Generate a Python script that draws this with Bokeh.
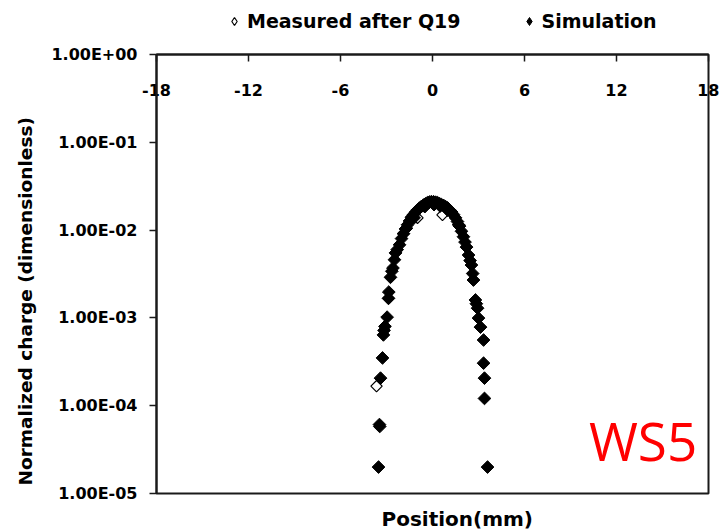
from bokeh.plotting import figure
from bokeh.layouts import column
from bokeh.models import Range1d, FixedTicker, Legend, LegendItem, Title, Label
from bokeh.embed import file_html
from bokeh.resources import INLINE

# ---- data ----
x_ticks = [-18, -12, -6, 0, 6, 12, 18]
x_tick_labels = ["-18", "-12", "-6", "0", "6", "12", "18"]
y_ticks = [1e-5, 1e-4, 1e-3, 1e-2, 1e-1, 1e0]
y_tick_labels = ["1.00E-05", "1.00E-04", "1.00E-03", "1.00E-02", "1.00E-01", "1.00E+00"]

sim_x = [-3.52, -3.46, -3.44, -3.39, -3.26, -3.20, -3.16, -3.10, -2.96, -2.87,
         -2.85, -2.74, -2.65, -2.58, -2.48, -2.41,
         -2.30, -2.15, -2.02, -1.89, -1.76, -1.63, -1.50, -1.37, -1.24, -1.11,
         -0.98, -0.85, -0.72, -0.59, -0.46, -0.33, -0.20, -0.07, 0.07, 0.20,
         0.33, 0.46, 0.59, 0.72, 0.85, 0.98, 1.11, 1.24, 1.37, 1.50,
         1.63, 1.76, 1.89, 2.02, 2.12, 2.22, 2.35,
         2.45, 2.54, 2.62, 2.67, 2.80, 2.86, 2.94, 3.00, 3.13, 3.33,
         3.33, 3.39, 3.39, 3.59,
         -1.70, -1.20, -0.50, 0.10, 0.50, 1.00, 1.70]
sim_y = [2.0e-5, 6.1e-5, 5.8e-5, 2.06e-4, 3.5e-4, 6.4e-4, 7.2e-4, 8.0e-4, 1.02e-3, 1.67e-3,
         1.97e-3, 2.9e-3, 3.4e-3, 3.7e-3, 4.6e-3, 5.5e-3,
         6.0e-3, 6.8e-3, 8.0e-3, 9.1e-3, 1.03e-2, 1.15e-2, 1.27e-2, 1.40e-2, 1.50e-2, 1.60e-2,
         1.70e-2, 1.78e-2, 1.86e-2, 1.93e-2, 1.99e-2, 2.05e-2, 2.09e-2, 2.11e-2, 2.10e-2, 2.08e-2,
         2.05e-2, 2.00e-2, 1.95e-2, 1.91e-2, 1.85e-2, 1.79e-2, 1.70e-2, 1.61e-2, 1.50e-2, 1.38e-2,
         1.25e-2, 1.11e-2, 9.7e-3, 8.4e-3, 7.3e-3, 6.4e-3, 5.2e-3,
         4.5e-3, 4.0e-3, 3.2e-3, 2.7e-3, 1.6e-3, 1.45e-3, 1.29e-3, 9.95e-4, 7.85e-4, 5.6e-4,
         3.05e-4, 2.06e-4, 1.21e-4, 2.0e-5,
         1.05e-2, 1.38e-2, 1.85e-2, 1.95e-2, 1.88e-2, 1.68e-2, 1.15e-2]

meas_x = [-3.65, -2.87, -2.41, -1.89, -1.37, -0.98, -0.46, 0.07, 0.65, 1.24,
          1.76, 2.22, 2.67, 3.13]
meas_y = [1.67e-4, 1.67e-3, 5.5e-3, 9.1e-3, 1.40e-2, 1.38e-2, 1.99e-2, 2.10e-2, 1.49e-2, 1.61e-2,
          1.11e-2, 6.4e-3, 2.7e-3, 7.85e-4]

legend_labels = ["Measured after Q19", "Simulation"]
x_title = "Position(mm)"
y_title = "Normalized charge (dimensionless)"
tag_text = "WS5"

BOLD_FONT = "DejaVu Sans"
LEG_H = 40

# ---------------- main chart ----------------
p = figure(frame_width=552, frame_height=439,
           x_range=Range1d(-18, 18), y_range=Range1d(1e-5, 1),
           y_axis_type="log", x_axis_location="above",
           output_backend="svg", toolbar_location=None,
           min_border_left=156, min_border_right=11,
           min_border_top=54 - LEG_H, min_border_bottom=38)

p.xgrid.visible = False
p.ygrid.visible = False
p.background_fill_color = "white"
p.border_fill_color = "white"
p.outline_line_color = "#1a1a1a"
p.outline_line_width = 2

xa = p.xaxis[0]
xa.ticker = FixedTicker(ticks=x_ticks, minor_ticks=[])
xa.major_label_overrides = {t: l for t, l in zip(x_ticks, x_tick_labels)}
xa.major_tick_in = 7
xa.major_tick_out = 0
xa.minor_tick_line_color = None
xa.axis_line_color = "#1a1a1a"
xa.axis_line_width = 2
xa.major_tick_line_color = "#1a1a1a"
xa.major_tick_line_width = 1.5
xa.major_label_standoff = -41
xa.major_label_text_font = BOLD_FONT
xa.major_label_text_font_style = "bold"
xa.major_label_text_font_size = "16px"
xa.major_label_text_color = "black"

ya = p.yaxis[0]
ya.ticker = FixedTicker(ticks=y_ticks, minor_ticks=[])
ya.major_label_overrides = {t: l for t, l in zip(y_ticks, y_tick_labels)}
ya.major_tick_in = 0
ya.major_tick_out = 7
ya.minor_tick_line_color = None
ya.axis_line_color = "#1a1a1a"
ya.axis_line_width = 2
ya.major_tick_line_color = "#1a1a1a"
ya.major_tick_line_width = 1.5
ya.major_label_standoff = 12
ya.major_label_text_font = BOLD_FONT
ya.major_label_text_font_style = "bold"
ya.major_label_text_font_size = "16px"
ya.major_label_text_color = "black"

MEAS_STYLE = dict(marker="square", angle=0.785398, size=8,
                  fill_color="white", line_color="black", line_width=1.2)
SIM_STYLE = dict(marker="square", angle=0.785398, size=9,
                 fill_color="black", line_color="black", line_width=1)

p.scatter(meas_x, meas_y, **MEAS_STYLE)
p.scatter(sim_x, sim_y, **SIM_STYLE)

ty = Title(text=y_title, align="left", offset=8, standoff=25,
           text_font=BOLD_FONT, text_font_style="bold", text_font_size="18.5px",
           text_color="black")
p.add_layout(ty, "left")

tx = Title(text=x_title, align="left", offset=225, standoff=22,
           text_font=BOLD_FONT, text_font_style="bold", text_font_size="20px",
           text_color="black")
p.add_layout(tx, "below")

tag = Label(x=10.2, y=4.0e-5, text=tag_text, text_font="Open Sans",
            text_font_size="53px", text_color="#ff0000",
            text_baseline="alphabetic", text_align="left")
p.add_layout(tag)

# ---------------- legend strip above the chart ----------------
lg = figure(width=719, height=LEG_H, x_range=Range1d(-18, 18), y_range=Range1d(1e-5, 1),
            y_axis_type="log", x_axis_location=None, y_axis_location=None,
            output_backend="svg", toolbar_location=None,
            min_border_left=0, min_border_right=0, min_border_top=0, min_border_bottom=0)
lg.xgrid.visible = False
lg.ygrid.visible = False
lg.outline_line_color = None
lg.background_fill_color = "white"
lg.border_fill_color = "white"
# same series, placed far outside this strip's view; only their legend entries show
LEG_MEAS = dict(MEAS_STYLE, marker="diamond", angle=0)
LEG_SIM = dict(SIM_STYLE, marker="diamond", angle=0)
lr_meas = lg.scatter([v + 100 for v in meas_x], meas_y, **LEG_MEAS)
lr_sim = lg.scatter([v + 100 for v in sim_x], sim_y, **LEG_SIM)

legend = Legend(items=[LegendItem(label=legend_labels[0], renderers=[lr_meas]),
                       LegendItem(label=legend_labels[1], renderers=[lr_sim])],
                orientation="horizontal", location=(68, 8),
                glyph_width=20, glyph_height=20, label_standoff=3, spacing=58,
                padding=0, margin=0, border_line_color=None,
                background_fill_alpha=0,
                label_text_font=BOLD_FONT, label_text_font_style="bold",
                label_text_font_size="19px", label_text_color="black")
lg.add_layout(legend)

layout = column(lg, p, spacing=0)
open("out.html", "w").write(file_html(layout, INLINE))
